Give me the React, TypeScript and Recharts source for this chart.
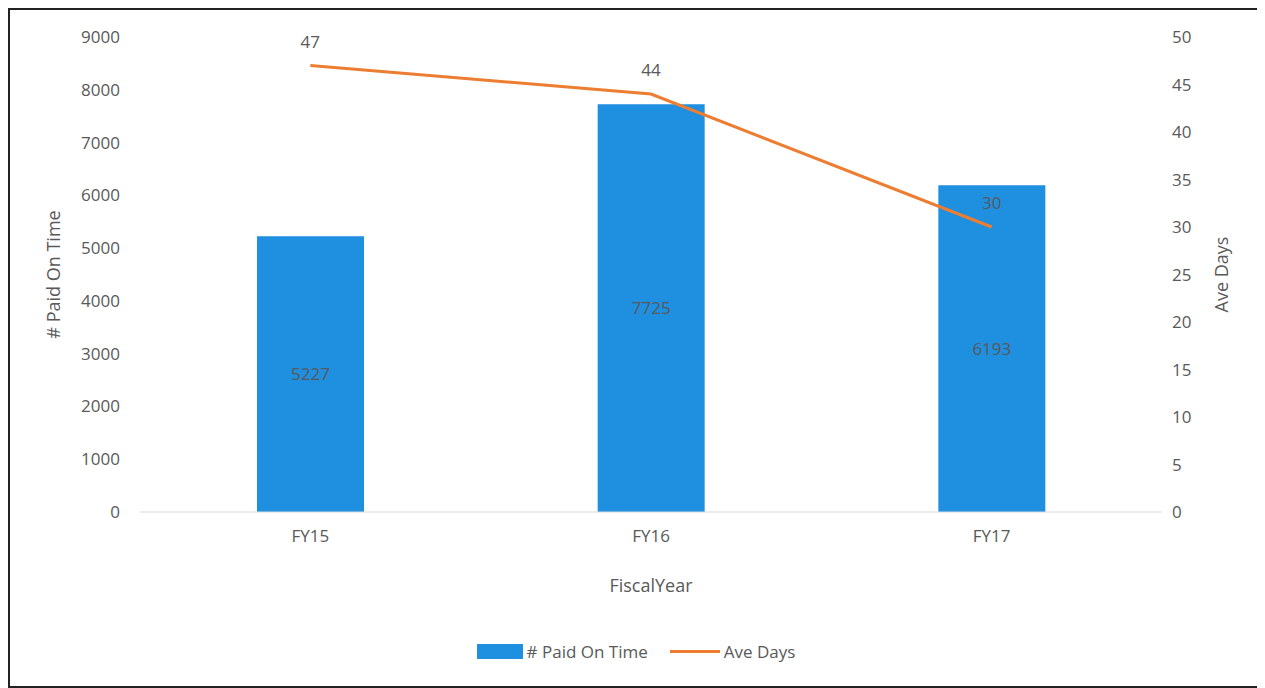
import { Bar, ComposedChart, LabelList, Legend, Line, XAxis, YAxis } from 'recharts'

const years = ['FY15', 'FY16', 'FY17']
const paidOnTime = [5227, 7725, 6193]
const aveDays = [47, 44, 30]
const leftTicks = [0, 1000, 2000, 3000, 4000, 5000, 6000, 7000, 8000, 9000]
const rightTicks = [0, 5, 10, 15, 20, 25, 30, 35, 40, 45, 50]

const data = years.map((year, i) => ({ year, paid: paidOnTime[i], days: aveDays[i] }))

const FONT = '"Open Sans", sans-serif'
const TEXT = '#595959'
const BLUE = '#1f8fe0'
const ORANGE = '#ed7d31'

function LegendContent() {
  return (
    <div style={{ display: 'flex', justifyContent: 'center', alignItems: 'center', fontFamily: FONT, fontSize: 17, color: TEXT }}>
      <span style={{ display: 'inline-block', width: 46, height: 15, background: BLUE, marginRight: 4 }} />
      <span style={{ marginRight: 22 }}># Paid On Time</span>
      <span style={{ display: 'inline-block', width: 50, height: 3, background: ORANGE, marginRight: 4 }} />
      <span>Ave Days</span>
    </div>
  )
}

export default function App() {
  return (
    <div style={{ width: 1252, height: 676, border: '2px solid #222', background: '#fff' }}>
      <ComposedChart width={1252} height={676} data={data} margin={{ top: 27, right: 30, bottom: 16, left: 30 }}>
        <XAxis
          dataKey="year"
          tickLine={false}
          axisLine={{ stroke: '#d9d9d9' }}
          tick={{ fill: TEXT, fontSize: 17, fontFamily: FONT }}
          tickMargin={12}
          height={128}
          label={{ value: 'FiscalYear', position: 'insideTop', offset: 67, fill: TEXT, fontSize: 18, fontFamily: FONT }}
        />
        <YAxis
          yAxisId="left"
          domain={[0, 9000]}
          ticks={leftTicks}
          width={100}
          tickLine={false}
          axisLine={false}
          tick={{ fill: TEXT, fontSize: 17, fontFamily: FONT }}
          tickMargin={14}
          label={{ value: '# Paid On Time', angle: -90, position: 'insideLeft', offset: 14, fill: TEXT, fontSize: 18, fontFamily: FONT, style: { textAnchor: 'middle' } }}
        />
        <YAxis
          yAxisId="right"
          orientation="right"
          domain={[0, 50]}
          ticks={rightTicks}
          width={70}
          tickLine={false}
          axisLine={false}
          tick={{ fill: TEXT, fontSize: 17, fontFamily: FONT }}
          tickMargin={4}
          label={{ value: 'Ave Days', angle: -90, position: 'insideRight', offset: 10, fill: TEXT, fontSize: 18, fontFamily: FONT, style: { textAnchor: 'middle' } }}
        />
        <Legend verticalAlign="bottom" height={30} content={LegendContent} />
        <Bar yAxisId="left" dataKey="paid" name="# Paid On Time" fill={BLUE} barSize={107} isAnimationActive={false}>
          <LabelList dataKey="paid" position="center" fill={TEXT} fontSize={17} fontFamily={FONT} />
        </Bar>
        <Line
          yAxisId="right"
          dataKey="days"
          name="Ave Days"
          stroke={ORANGE}
          strokeWidth={3}
          dot={false}
          isAnimationActive={false}
        >
          <LabelList dataKey="days" position="top" offset={18} fill={TEXT} fontSize={17} fontFamily={FONT} />
        </Line>
      </ComposedChart>
    </div>
  )
}
